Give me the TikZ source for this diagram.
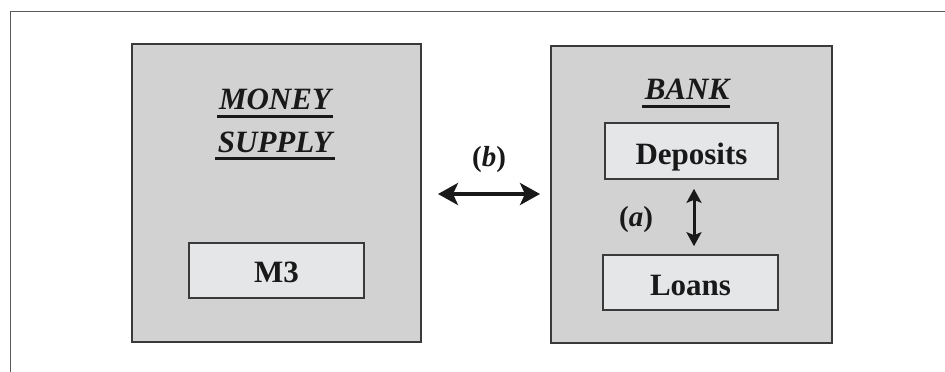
\documentclass[tikz,border=0pt]{standalone}
\usepackage{fontspec}
\setmainfont{Liberation Serif}
\usetikzlibrary{arrows.meta}
\definecolor{framegray}{HTML}{5A5A5A}
\definecolor{edgegray}{HTML}{3A3A3A}
\definecolor{outerfill}{HTML}{D2D2D3}
\definecolor{innerfill}{HTML}{E5E6E8}
\tikzset{
  bigbox/.style={draw=edgegray, line width=2pt, fill=outerfill},
  smallbox/.style={draw=edgegray, line width=1.6pt, fill=innerfill},
  lbl/.style={font=\fontsize{31}{31}\selectfont\bfseries, anchor=base, inner sep=0pt, text=black!90},
  title/.style={font=\fontsize{31}{31}\selectfont\bfseries\itshape, anchor=base, inner sep=0pt, text=black!90},
  par/.style={font=\fontsize{29}{29}\selectfont\bfseries, anchor=base, inner sep=0pt, text=black!90},
  uline/.style={fill=black!90, draw=none},
}
\begin{document}
\begin{tikzpicture}[x=1pt,y=-1pt]
\useasboundingbox (0,0) rectangle (945,372);
% outer frame (only top and left visible)
\draw[framegray, line width=1.5pt] (10.5,372) -- (10.5,11.5) -- (945,11.5);
% big boxes
\draw[bigbox] (132,44) rectangle (421,342);
\draw[bigbox] (551,46) rectangle (832,343);
% inner boxes
\node[smallbox, minimum width=175pt, minimum height=55pt, inner sep=0pt] (m3) at (276.5,270.5) {};
\node[smallbox, minimum width=173pt, minimum height=56pt, inner sep=0pt] (dep) at (691.5,151) {};
\node[smallbox, minimum width=175pt, minimum height=55pt, inner sep=0pt] (loan) at (690.5,282.5) {};
% labels
\node[lbl] (m3t) at (276.5,282) {M3};
\node[lbl] (dept) at (691.5,164) {Deposits};
\node[lbl] (loant) at (690.5,295) {Loans};
% titles
\node[title] (money) at (275,109) {MONEY};
\node[title] (supply) at (275,152) {SUPPLY};
\node[title] (bank) at (687,99) {BANK};
\fill[uline] (217,114.5) rectangle (333,117.5);
\fill[uline] (215,156.5) rectangle (335,159.5);
\fill[uline] (642,104.5) rectangle (730,107.5);
% arrows
\coordinate (bl) at (438,194);
\coordinate (br) at (540,194);
\draw[line width=4.5pt, black!90, {Stealth[length=20pt,width=22pt,inset=5pt]}-{Stealth[length=20pt,width=22pt,inset=5pt]}] (bl) -- (br);
\node[par] (blab) at (489,166) {(\textit{b})};
\draw[line width=3pt, black!90, {Stealth[length=14pt,width=15pt,inset=3pt]}-{Stealth[length=14pt,width=15pt,inset=3pt]}] ([yshift=-9pt]dep.south -| 694,0) -- ([yshift=8pt]loan.north -| 694,0);
\node[par] (alab) at (636,226) {(\textit{a})};
\end{tikzpicture}
\end{document}
